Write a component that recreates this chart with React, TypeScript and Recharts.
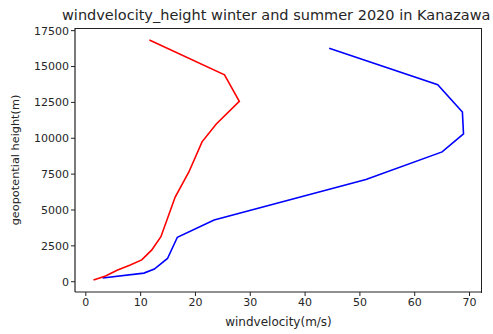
import { Scatter, ScatterChart, XAxis, YAxis } from "recharts";

// winter (blue) profile
const winterWind = [3.05, 10.6, 12.5, 14.9, 16.7, 23.4, 51.1, 65.0, 68.9, 68.7, 64.2, 44.4];
const winterHeight = [257, 600, 880, 1620, 3100, 4300, 7130, 9050, 10300, 11830, 13730, 16270];

// summer (red) profile
const summerWind = [1.4, 3.6, 5.7, 8.0, 10.2, 12.0, 13.7, 16.3, 18.8, 21.2, 23.8, 28.0, 25.3, 11.6];
const summerHeight = [120, 400, 800, 1150, 1520, 2200, 3140, 5900, 7650, 9750, 11000, 12570, 14420, 16850];

const xTicks = [0, 10, 20, 30, 40, 50, 60, 70];
const yTicks = [0, 2500, 5000, 7500, 10000, 12500, 15000, 17500];

const winter = winterWind.map((w, i) => ({ wind: w, height: winterHeight[i] }));
const summer = summerWind.map((w, i) => ({ wind: w, height: summerHeight[i] }));

const FONT = "'DejaVu Sans', sans-serif";
const tickStyle = { fontSize: 11, fill: "#262626", fontFamily: FONT };
const noDot = () => <g />;

export default function App() {
  return (
    <div style={{ position: "absolute", left: 0, top: 0, width: 493, height: 334, background: "#fff" }}>
      <div
        style={{
          position: "absolute",
          left: 62,
          top: 6,
          fontFamily: FONT,
          fontSize: 14.5,
          lineHeight: "18px",
          color: "#262626",
          whiteSpace: "nowrap",
        }}
      >
        windvelocity_height winter and summer 2020 in Kanazawa
      </div>
      <ScatterChart width={493} height={334} margin={{ top: 28, right: 11, left: 0, bottom: 0 }}>
        <XAxis
          type="number"
          dataKey="wind"
          domain={[-1.975, 72.275]}
          ticks={xTicks}
          allowDataOverflow
          height={42}
          tickSize={4}
          tickLine={{ stroke: "#222" }}
          axisLine={{ stroke: "#222", strokeWidth: 1.2 }}
          tick={tickStyle}
          label={{
            value: "windvelocity(m/s)",
            position: "insideBottom",
            offset: 8,
            style: { fontSize: 12, fill: "#262626", fontFamily: FONT },
          }}
        />
        <YAxis
          type="number"
          dataKey="height"
          domain={[-716, 17686]}
          ticks={yTicks}
          allowDataOverflow
          width={75}
          tickSize={4}
          tickLine={{ stroke: "#222" }}
          axisLine={{ stroke: "#222", strokeWidth: 1.2 }}
          tick={tickStyle}
          label={{
            value: "geopotential height(m)",
            angle: -90,
            position: "center",
            dx: -23,
            style: { fontSize: 11.3, fill: "#262626", fontFamily: FONT, textAnchor: "middle" },
          }}
        />
        <Scatter
          data={winter}
          line={{ stroke: "#0000ff", strokeWidth: 1.6 }}
          shape={noDot}
          fill="#0000ff"
          isAnimationActive={false}
        />
        <Scatter
          data={summer}
          line={{ stroke: "#ff0000", strokeWidth: 1.6 }}
          shape={noDot}
          fill="#ff0000"
          isAnimationActive={false}
        />
      </ScatterChart>
      {/* top/right spines of the axes frame */}
      <div
        style={{
          position: "absolute",
          left: 75,
          top: 28,
          width: 406,
          height: 264,
          borderTop: "1.2px solid #222",
          borderRight: "1.2px solid #222",
          pointerEvents: "none",
        }}
      />
    </div>
  );
}
